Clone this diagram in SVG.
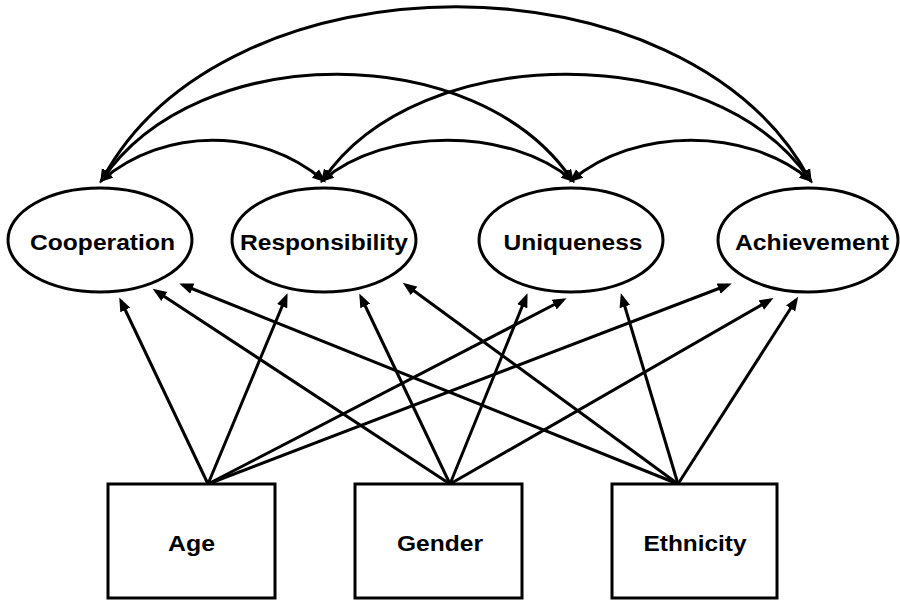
<svg xmlns="http://www.w3.org/2000/svg" width="900" height="601" viewBox="0 0 900 601">
  <style>
    .node { fill: #fff; stroke: #000; stroke-width: 3; }
    .lbl { font-family: "Liberation Sans", Arial, sans-serif; font-weight: bold; font-size: 22px; fill: #000; text-anchor: middle; }
    .edge { fill: none; stroke: #000; stroke-width: 3; }
    .path { marker-end: url(#arr); }
    .cov { marker-start: url(#arr); marker-end: url(#arr); }
  </style>
  <defs>
    <marker id="arr" markerUnits="userSpaceOnUse" markerWidth="15" markerHeight="12" viewBox="0 0 15 12" refX="10" refY="6" orient="auto-start-reverse">
      <path d="M0,0.5 L14,6 L0,11.5 z" fill="#000"/>
    </marker>
  </defs>
  <rect width="900" height="601" fill="#fff"/>

  <g id="connectors">
    <!-- covariances -->
    <path class="edge cov" d="M102,180 C165,127 260,127 323,180"/>
    <path class="edge cov" d="M323,180 C386,127 509,127 572,180"/>
    <path class="edge cov" d="M572,180 C635,127 747,127 810,180"/>
    <path class="edge cov" d="M102,180 C197,39 477,39 572,180"/>
    <path class="edge cov" d="M323,180 C418,39 715,39 810,180"/>
    <path class="edge cov" d="M102,180 C225,-51 687,-51 810,180"/>
    <!-- Age -->
    <line class="edge path" x1="208" y1="484" x2="121" y2="301"/>
    <line class="edge path" x1="208" y1="484" x2="286" y2="297"/>
    <line class="edge path" x1="208" y1="484" x2="563" y2="300"/>
    <line class="edge path" x1="208" y1="484" x2="728" y2="285"/>
    <!-- Gender -->
    <line class="edge path" x1="450" y1="484" x2="156" y2="291"/>
    <line class="edge path" x1="450" y1="484" x2="361" y2="297"/>
    <line class="edge path" x1="450" y1="484" x2="526" y2="297"/>
    <line class="edge path" x1="450" y1="484" x2="770" y2="300"/>
    <!-- Ethnicity -->
    <line class="edge path" x1="678" y1="484" x2="183" y2="285"/>
    <line class="edge path" x1="678" y1="484" x2="406" y2="285"/>
    <line class="edge path" x1="678" y1="484" x2="622" y2="297"/>
    <line class="edge path" x1="678" y1="484" x2="796" y2="300"/>
  </g>

  <g id="cooperation">
    <ellipse class="node" cx="100" cy="240" rx="92" ry="52"/>
    <text class="lbl" x="102.5" y="250" textLength="145" lengthAdjust="spacingAndGlyphs">Cooperation</text>
  </g>
  <g id="responsibility">
    <ellipse class="node" cx="324" cy="240" rx="92" ry="52"/>
    <text class="lbl" x="324" y="250" textLength="168" lengthAdjust="spacingAndGlyphs">Responsibility</text>
  </g>
  <g id="uniqueness">
    <ellipse class="node" cx="571" cy="240" rx="92" ry="52"/>
    <text class="lbl" x="573" y="250" textLength="139" lengthAdjust="spacingAndGlyphs">Uniqueness</text>
  </g>
  <g id="achievement">
    <ellipse class="node" cx="808" cy="240" rx="90" ry="52"/>
    <text class="lbl" x="812" y="250" textLength="154" lengthAdjust="spacingAndGlyphs">Achievement</text>
  </g>

  <g id="age">
    <rect class="node" x="108" y="484" width="167" height="114"/>
    <text class="lbl" x="191.5" y="551" textLength="47" lengthAdjust="spacingAndGlyphs">Age</text>
  </g>
  <g id="gender">
    <rect class="node" x="355" y="484" width="167" height="114"/>
    <text class="lbl" x="440" y="551" textLength="86" lengthAdjust="spacingAndGlyphs">Gender</text>
  </g>
  <g id="ethnicity">
    <rect class="node" x="612" y="484" width="165" height="114"/>
    <text class="lbl" x="695" y="551" textLength="103" lengthAdjust="spacingAndGlyphs">Ethnicity</text>
  </g>
</svg>
